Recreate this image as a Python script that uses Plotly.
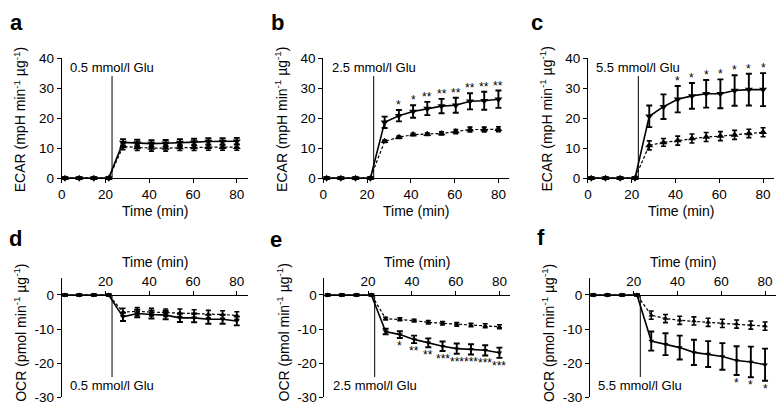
import plotly.graph_objects as go

# ---------------- data ----------------
time_min = [1.5, 8, 14.7, 21.5, 28, 34.5, 41, 47.5, 54, 60.5, 67, 73.5, 80]
injection_time = 23
x_ticks = [0, 20, 40, 60, 80]
ecar_ticks = [0, 10, 20, 30, 40]
ocr_ticks = [0, -10, -20, -30]
ocr_tick_labels = ["0", "-10", "-20", "-30"]

glucose_labels = ["0.5 mmol/l Glu", "2.5 mmol/l Glu", "5.5 mmol/l Glu"]
panel_letters = ["a", "b", "c", "d", "e", "f"]

pre = [0, 0, 0, 0]
pre_err = [0.3, 0.3, 0.3, 0.3]
pre_err_ocr = [0.2, 0.2, 0.2, 0.2]

# ECAR (mpH/min/ug)
ecar_a_solid = pre + [11.9, 11.7, 11.5, 11.6, 11.9, 12.0, 12.2, 12.2, 12.3]
ecar_a_solid_err = pre_err + [1.1, 1.1, 1.1, 1.1, 1.1, 1.1, 1.1, 1.1, 1.1]
ecar_a_dash = pre + [10.5, 10.2, 10.0, 10.0, 10.2, 10.2, 10.3, 10.3, 10.3]
ecar_a_dash_err = pre_err + [1.0, 1.0, 1.0, 1.0, 1.0, 1.0, 1.0, 1.0, 1.0]
ecar_a_stars = ["", "", "", "", "", "", "", "", "", "", "", "", ""]

ecar_b_solid = pre + [18.6, 20.8, 22.2, 23.2, 24.0, 24.3, 25.6, 25.8, 26.3]
ecar_b_solid_err = pre_err + [1.9, 1.9, 2.1, 2.2, 2.4, 2.5, 2.7, 3.0, 2.9]
ecar_b_dash = pre + [12.3, 13.6, 14.5, 14.6, 14.9, 15.5, 16.2, 16.2, 16.3]
ecar_b_dash_err = pre_err + [0.4, 0.4, 0.4, 0.4, 0.5, 0.7, 0.8, 0.8, 0.8]
ecar_b_stars = ["", "", "", "", "", "*", "*", "**", "**", "**", "**", "**", "**"]

ecar_c_solid = pre + [20.6, 23.8, 26.3, 27.4, 28.1, 28.1, 29.2, 29.5, 29.5]
ecar_c_solid_err = pre_err + [3.6, 4.1, 4.4, 4.3, 4.6, 4.8, 5.1, 5.3, 5.5]
ecar_c_dash = pre + [10.9, 11.9, 12.5, 13.2, 13.7, 14.0, 14.4, 14.9, 15.3]
ecar_c_dash_err = pre_err + [1.5, 1.3, 1.5, 1.5, 1.5, 1.5, 1.5, 1.4, 1.5]
ecar_c_stars = ["", "", "", "", "", "", "*", "*", "*", "*", "*", "*", "*"]

# OCR (pmol/min/ug)
ocr_d_solid = pre + [-6.4, -5.4, -5.7, -5.9, -6.7, -6.7, -7.1, -7.1, -7.6]
ocr_d_solid_err = pre_err_ocr + [1.2, 1.1, 1.2, 1.2, 1.2, 1.3, 1.3, 1.3, 1.3]
ocr_d_dash = pre + [-5.0, -4.8, -5.0, -5.2, -5.2, -5.4, -5.6, -5.7, -6.0]
ocr_d_dash_err = pre_err_ocr + [1.1, 1.1, 1.1, 1.1, 1.1, 1.1, 1.1, 1.1, 1.1]
ocr_d_stars = ["", "", "", "", "", "", "", "", "", "", "", "", ""]

ocr_e_solid = pre + [-10.7, -11.6, -13.0, -14.0, -15.0, -15.7, -15.9, -16.2, -16.9]
ocr_e_solid_err = pre_err_ocr + [0.8, 1.0, 1.1, 1.3, 1.4, 1.5, 1.5, 1.5, 1.5]
ocr_e_dash = pre + [-6.9, -7.1, -7.5, -8.0, -8.3, -8.6, -8.8, -9.0, -9.3]
ocr_e_dash_err = pre_err_ocr + [0.4, 0.4, 0.4, 0.5, 0.5, 0.5, 0.5, 0.6, 0.6]
ocr_e_stars = ["", "", "", "", "", "*", "**", "**", "***", "***", "***", "***", "***"]

ocr_f_solid = pre + [-13.5, -14.4, -15.4, -16.8, -17.3, -18.0, -19.2, -19.6, -20.4]
ocr_f_solid_err = pre_err_ocr + [2.8, 3.2, 3.5, 3.7, 3.8, 3.9, 4.2, 4.5, 4.7]
ocr_f_dash = pre + [-5.9, -6.9, -7.4, -7.6, -8.0, -8.3, -8.5, -8.8, -9.1]
ocr_f_dash_err = pre_err_ocr + [1.2, 1.2, 1.2, 1.2, 1.2, 1.2, 1.2, 1.2, 1.2]
ocr_f_stars = ["", "", "", "", "", "", "", "", "", "", "*", "*", "*"]

# ---------------- layout helpers ----------------
W, H = 777, 418
FONT = "Arial, Liberation Sans, Helvetica, sans-serif"


def fx(p):
    return p / W


def fy(p):
    return 1 - p / H


panels = [
    dict(kind="ECAR", x0=58, letter_xy=(13, 16), solid=ecar_a_solid, solid_err=ecar_a_solid_err,
         dash=ecar_a_dash, dash_err=ecar_a_dash_err, stars=ecar_a_stars, glu=glucose_labels[0]),
    dict(kind="ECAR", x0=321, letter_xy=(275, 16), solid=ecar_b_solid, solid_err=ecar_b_solid_err,
         dash=ecar_b_dash, dash_err=ecar_b_dash_err, stars=ecar_b_stars, glu=glucose_labels[1]),
    dict(kind="ECAR", x0=587, letter_xy=(536, 16), solid=ecar_c_solid, solid_err=ecar_c_solid_err,
         dash=ecar_c_dash, dash_err=ecar_c_dash_err, stars=ecar_c_stars, glu=glucose_labels[2]),
    dict(kind="OCR", x0=58, letter_xy=(12, 240), solid=ocr_d_solid, solid_err=ocr_d_solid_err,
         dash=ocr_d_dash, dash_err=ocr_d_dash_err, stars=ocr_d_stars, glu=glucose_labels[0]),
    dict(kind="OCR", x0=322, letter_xy=(273, 241), solid=ocr_e_solid, solid_err=ocr_e_solid_err,
         dash=ocr_e_dash, dash_err=ocr_e_dash_err, stars=ocr_e_stars, glu=glucose_labels[1]),
    dict(kind="OCR", x0=589, letter_xy=(540, 239), solid=ocr_f_solid, solid_err=ocr_f_solid_err,
         dash=ocr_f_dash, dash_err=ocr_f_dash_err, stars=ocr_f_stars, glu=glucose_labels[2]),
]

PLOT_W = 187
X_RANGE = [0, 85]
ECAR_TOP, ECAR_BOT = 53, 177.5
OCR_TOP, OCR_BOT = 281, 405
OCR_RANGE = [-30, 5]

fig = go.Figure()
annotations = []
shapes = []
layout_axes = {}

tick_font = dict(family=FONT, size=13.5, color="black")

for i, p in enumerate(panels):
    n = i + 1
    xa = "x" if n == 1 else f"x{n}"
    ya = "y" if n == 1 else f"y{n}"
    xkey = "xaxis" if n == 1 else f"xaxis{n}"
    ykey = "yaxis" if n == 1 else f"yaxis{n}"
    x0 = p["x0"]
    x1 = x0 + PLOT_W
    is_ecar = p["kind"] == "ECAR"
    if is_ecar:
        top, bot = ECAR_TOP, ECAR_BOT
        yrange = [0, 40]
    else:
        top, bot = OCR_TOP, OCR_BOT
        yrange = OCR_RANGE

    msize = 7 if is_ecar else 5
    # dashed series (up triangles)
    fig.add_trace(go.Scatter(
        x=time_min, y=p["dash"], xaxis=xa, yaxis=ya, mode="lines+markers",
        line=dict(color="black", width=1.2, dash="3px,2px"),
        marker=dict(symbol="triangle-up", size=msize, color="black"),
        error_y=dict(type="data", array=p["dash_err"], color="black", thickness=1.6, width=2.5),
        cliponaxis=False, showlegend=False, hoverinfo="skip"))
    # solid series (down triangles)
    fig.add_trace(go.Scatter(
        x=time_min, y=p["solid"], xaxis=xa, yaxis=ya, mode="lines+markers",
        line=dict(color="black", width=1.6),
        marker=dict(symbol="triangle-down", size=msize, color="black"),
        error_y=dict(type="data", array=p["solid_err"], color="black", thickness=1.9, width=3),
        cliponaxis=False, showlegend=False, hoverinfo="skip"))

    # axes
    if is_ecar:
        layout_axes[xkey] = dict(
            domain=[fx(x0), fx(x1)], range=X_RANGE, anchor=ya, showline=True, linecolor="black",
            linewidth=1, ticks="outside", ticklen=4, tickcolor="black", tickvals=x_ticks,
            tickfont=tick_font, showgrid=False, zeroline=False, fixedrange=True)
        layout_axes[ykey] = dict(
            domain=[fy(bot), fy(top)], range=yrange, anchor=xa, showline=True, linecolor="black",
            linewidth=1, ticks="outside", ticklen=4, tickcolor="black", tickvals=ecar_ticks,
            tickfont=tick_font, showgrid=False, zeroline=False, fixedrange=True)
    else:
        zero_px = top + (bot - top) * (OCR_RANGE[1] - 0) / (OCR_RANGE[1] - OCR_RANGE[0])
        layout_axes[xkey] = dict(
            domain=[fx(x0), fx(x1)], range=X_RANGE, anchor="free", position=fy(zero_px),
            side="top", showline=True, linecolor="black", linewidth=1, ticks="outside",
            ticklen=4, tickcolor="black", tickvals=x_ticks[1:], tickfont=tick_font,
            showgrid=False, zeroline=False, fixedrange=True)
        layout_axes[ykey] = dict(
            domain=[fy(bot), fy(top)], range=yrange, anchor=xa, showline=True, linecolor="black",
            linewidth=1, ticks="outside", ticklen=4, tickcolor="black", tickvals=ocr_ticks,
            ticktext=ocr_tick_labels, tickfont=tick_font, showgrid=False, zeroline=False,
            fixedrange=True)

    # injection line and label
    if is_ecar:
        line_end, label_y = 34, 36.8
    else:
        line_end, label_y = -24, -26.4
    shapes.append(dict(type="line", xref=xa, yref=ya, x0=injection_time, x1=injection_time,
                       y0=0, y1=line_end, line=dict(color="black", width=1)))
    annotations.append(dict(x=injection_time, y=label_y, xref=xa, yref=ya, text=p["glu"],
                            showarrow=False, xanchor="center", yanchor="middle",
                            font=dict(family=FONT, size=13, color="black")))

    # significance stars
    for t, v, e, s in zip(time_min, p["solid"], p["solid_err"], p["stars"]):
        if not s:
            continue
        if is_ecar:
            annotations.append(dict(x=t, y=v + e, xref=xa, yref=ya, text=s, showarrow=False,
                                    xanchor="center", yanchor="bottom", yshift=-4,
                                    font=dict(family=FONT, size=12, color="black")))
        else:
            annotations.append(dict(x=t, y=v - e, xref=xa, yref=ya, text=s, showarrow=False,
                                    xanchor="center", yanchor="top", yshift=1,
                                    font=dict(family=FONT, size=12, color="black")))

    # axis titles
    cx = (x0 + x1) / 2
    if is_ecar:
        annotations.append(dict(x=fx(cx), y=fy(212), xref="paper", yref="paper",
                                text="Time (min)", showarrow=False, xanchor="center",
                                yanchor="middle", font=dict(family=FONT, size=14, color="black")))
        ytitle = "ECAR (mpH min<sup>-1</sup> µg<sup>-1</sup>)"
        ty = 116.5
    else:
        annotations.append(dict(x=fx(cx), y=fy(265), xref="paper", yref="paper",
                                text="Time (min)", showarrow=False, xanchor="center",
                                yanchor="middle", font=dict(family=FONT, size=14, color="black")))
        ytitle = "OCR (pmol min<sup>-1</sup> µg<sup>-1</sup>)"
        ty = 338
    annotations.append(dict(x=fx(x0 - 42), y=fy(ty), xref="paper", yref="paper", text=ytitle,
                            showarrow=False, textangle=-90, xanchor="center", yanchor="middle",
                            font=dict(family=FONT, size=14, color="black")))

    # panel letter
    lx, ly = p["letter_xy"]
    annotations.append(dict(x=fx(lx), y=fy(ly), xref="paper", yref="paper",
                            text="<b>" + panel_letters[i] + "</b>", showarrow=False,
                            xanchor="center", yanchor="middle",
                            font=dict(family=FONT, size=22, color="black")))

fig.update_layout(
    width=W, height=H, autosize=False,
    margin=dict(l=0, r=0, t=0, b=0),
    paper_bgcolor="white", plot_bgcolor="white",
    showlegend=False,
    annotations=annotations, shapes=shapes,
    **layout_axes,
)

fig.write_html("out.html",
               config={"displayModeBar": False, "staticPlot": True},
               post_script="document.body.style.margin='0';document.body.style.overflow='hidden';")
